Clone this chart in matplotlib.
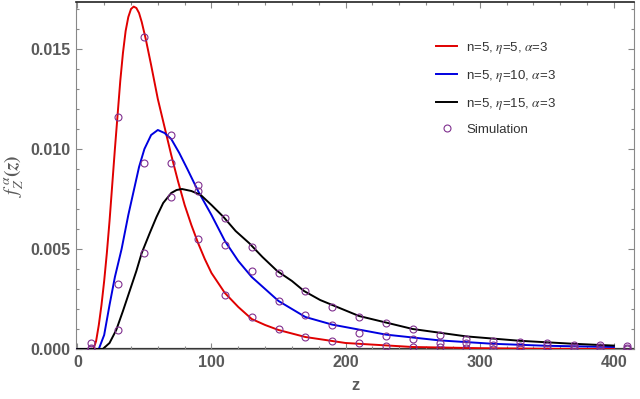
import numpy as np
import matplotlib
matplotlib.use('Agg')
import matplotlib.pyplot as plt
from matplotlib.ticker import MultipleLocator, FormatStrFormatter

plt.rcParams['font.family'] = ['Liberation Sans', 'DejaVu Sans']
plt.rcParams['mathtext.fontset'] = 'stix'

# analytical curves
z_red = [0, 12, 14, 16, 18, 20, 22, 24, 26, 28, 30, 32, 34, 36, 38, 40, 42, 44, 46, 48,
         51, 55, 60, 65, 70, 75, 80, 85, 90, 95, 100, 110, 120, 130, 140, 150, 170, 200,
         250, 300, 350, 400]
f_red = [0, 0, 0.0004, 0.0012, 0.0022, 0.0034, 0.0048, 0.0064, 0.0082, 0.0100, 0.0117,
         0.0134, 0.0148, 0.0159, 0.0166, 0.0170, 0.01712, 0.01705, 0.0168, 0.01635,
         0.0155, 0.0142, 0.0125, 0.0111, 0.0097, 0.0084, 0.0072, 0.0062, 0.0053, 0.00450,
         0.0038, 0.0028, 0.0021, 0.0015, 0.0012, 0.00095, 0.0006, 0.0003, 0.0001,
         0.00004, 0.00001, 0]

z_blue = [0, 16, 20, 24, 28, 33, 38, 42, 46, 50, 55, 60, 65, 70, 76, 82, 90, 100, 110,
          120, 130, 140, 150, 170, 190, 230, 270, 310, 350, 400]
f_blue = [0, 0, 0.0007, 0.0022, 0.0036, 0.0050, 0.0067, 0.0079, 0.0091, 0.0100, 0.0107,
          0.01095, 0.0108, 0.0105, 0.0098, 0.0090, 0.0079, 0.0067, 0.0054, 0.0044, 0.0036,
          0.0030, 0.0024, 0.0016, 0.00122, 0.00072, 0.00043, 0.00026, 0.00016, 0.0001]

z_black = [0, 19, 24, 29, 34, 39, 44, 48, 54, 59, 64, 70, 74, 78, 85, 92, 100, 109, 118,
           128, 138, 149, 160, 169, 181, 210, 250, 290, 330, 370, 400]
f_black = [0, 0, 0.0003, 0.00095, 0.0019, 0.0029, 0.0039, 0.0048, 0.0058, 0.0066, 0.0073,
           0.0078, 0.00795, 0.0080, 0.0079, 0.0077, 0.0072, 0.0066, 0.0059, 0.0053, 0.0046,
           0.0039, 0.0034, 0.0029, 0.00245, 0.00165, 0.0010, 0.00063, 0.00041, 0.00026,
           0.00017]

# simulation points
z_sim = [10, 30, 50, 70, 90, 110, 130, 150, 170, 190, 210, 230, 250, 270, 290, 310,
         330, 350, 370, 390, 410]
sim_red = [0.0003, 0.0116, 0.0156, 0.0093, 0.0055, 0.0027, 0.0016, 0.0010, 0.0006, 0.0004,
           0.0003, 0.00015, 0.0001, 0.0001, 0.00003, 0.00002, 0.00001, 0, 0, 0, 0]
sim_blue = [0.00003, 0.00325, 0.00928, 0.0107, 0.0082, 0.0052, 0.0039, 0.0024, 0.0017,
            0.0012, 0.0008, 0.00066, 0.0005, 0.0003, 0.0003, 0.0002, 0.00015, 0.00014,
            0.0001, 0.0001, 0.00005]
sim_black = [0.00001, 0.00093, 0.0048, 0.0076, 0.0079, 0.00655, 0.0051, 0.0038, 0.0029,
             0.0021, 0.0016, 0.0013, 0.0010, 0.0007, 0.0005, 0.00042, 0.00033, 0.0003,
             0.00022, 0.0002, 0.00015]

labels = ['n=5, $\\eta$=5, $\\alpha$=3', 'n=5, $\\eta$=10, $\\alpha$=3',
          'n=5, $\\eta$=15, $\\alpha$=3', 'Simulation']

fig = plt.figure(figsize=(6.4, 3.99), dpi=100)
ax = fig.add_axes([76/640, 1-349/399, (634-76)/640, 347/399])

ax.axhline(0, color='#333333', lw=1.6, zorder=1)
l1, = ax.plot(z_red, f_red, color='#e00000', lw=1.4, zorder=3)
l2, = ax.plot(z_blue, f_blue, color='#0000e0', lw=1.4, zorder=3)
l3, = ax.plot(z_black, f_black, color='black', lw=1.4, zorder=3)
mk = dict(ls='none', marker='o', ms=5, mfc='none', mec='#80308f', mew=0.8, zorder=4)
p1, = ax.plot(z_sim, sim_red, **mk)
ax.plot(z_sim, sim_blue, **mk)
ax.plot(z_sim, sim_black, **mk)

ax.set_xlim(-1, 415)
ax.set_ylim(0, 0.01735)
ax.xaxis.set_major_locator(MultipleLocator(100))
ax.xaxis.set_minor_locator(MultipleLocator(20))
ax.yaxis.set_major_locator(MultipleLocator(0.005))
ax.yaxis.set_minor_locator(MultipleLocator(0.001))
ax.yaxis.set_major_formatter(FormatStrFormatter('%.3f'))

ax.tick_params(which='both', direction='in', top=True, right=True, color='#888888', width=0.8)
ax.tick_params(which='major', length=4)
ax.tick_params(which='minor', length=2.5)
ax.tick_params(labelsize=11.5, labelcolor='#5a5a5a', pad=4)
for t in ax.get_xticklabels() + ax.get_yticklabels():
    t.set_fontweight('bold')
for s in ['left', 'right', 'bottom']:
    ax.spines[s].set_color('#888888')
ax.spines['top'].set_color('#222222')
ax.spines['top'].set_linewidth(1.2)

ax.set_xlabel('z', fontsize=12, fontweight='bold', color='#5a5a5a', labelpad=6)
ax.set_ylabel('$\\boldsymbol{f_Z^{\\,\\alpha}(z)}$', fontsize=14, color='#5a5a5a', labelpad=3)

leg = ax.legend([l1, l2, l3, p1], labels, loc='upper left',
                bbox_to_anchor=(436/640, 1-40/399), bbox_transform=fig.transFigure,
                frameon=False, fontsize=9.5, handlelength=1.6, handletextpad=0.7,
                labelspacing=0.9, borderpad=0, borderaxespad=0, numpoints=1)
for t in leg.get_texts():
    t.set_color('#333333')

fig.savefig('out.png', dpi=100)
